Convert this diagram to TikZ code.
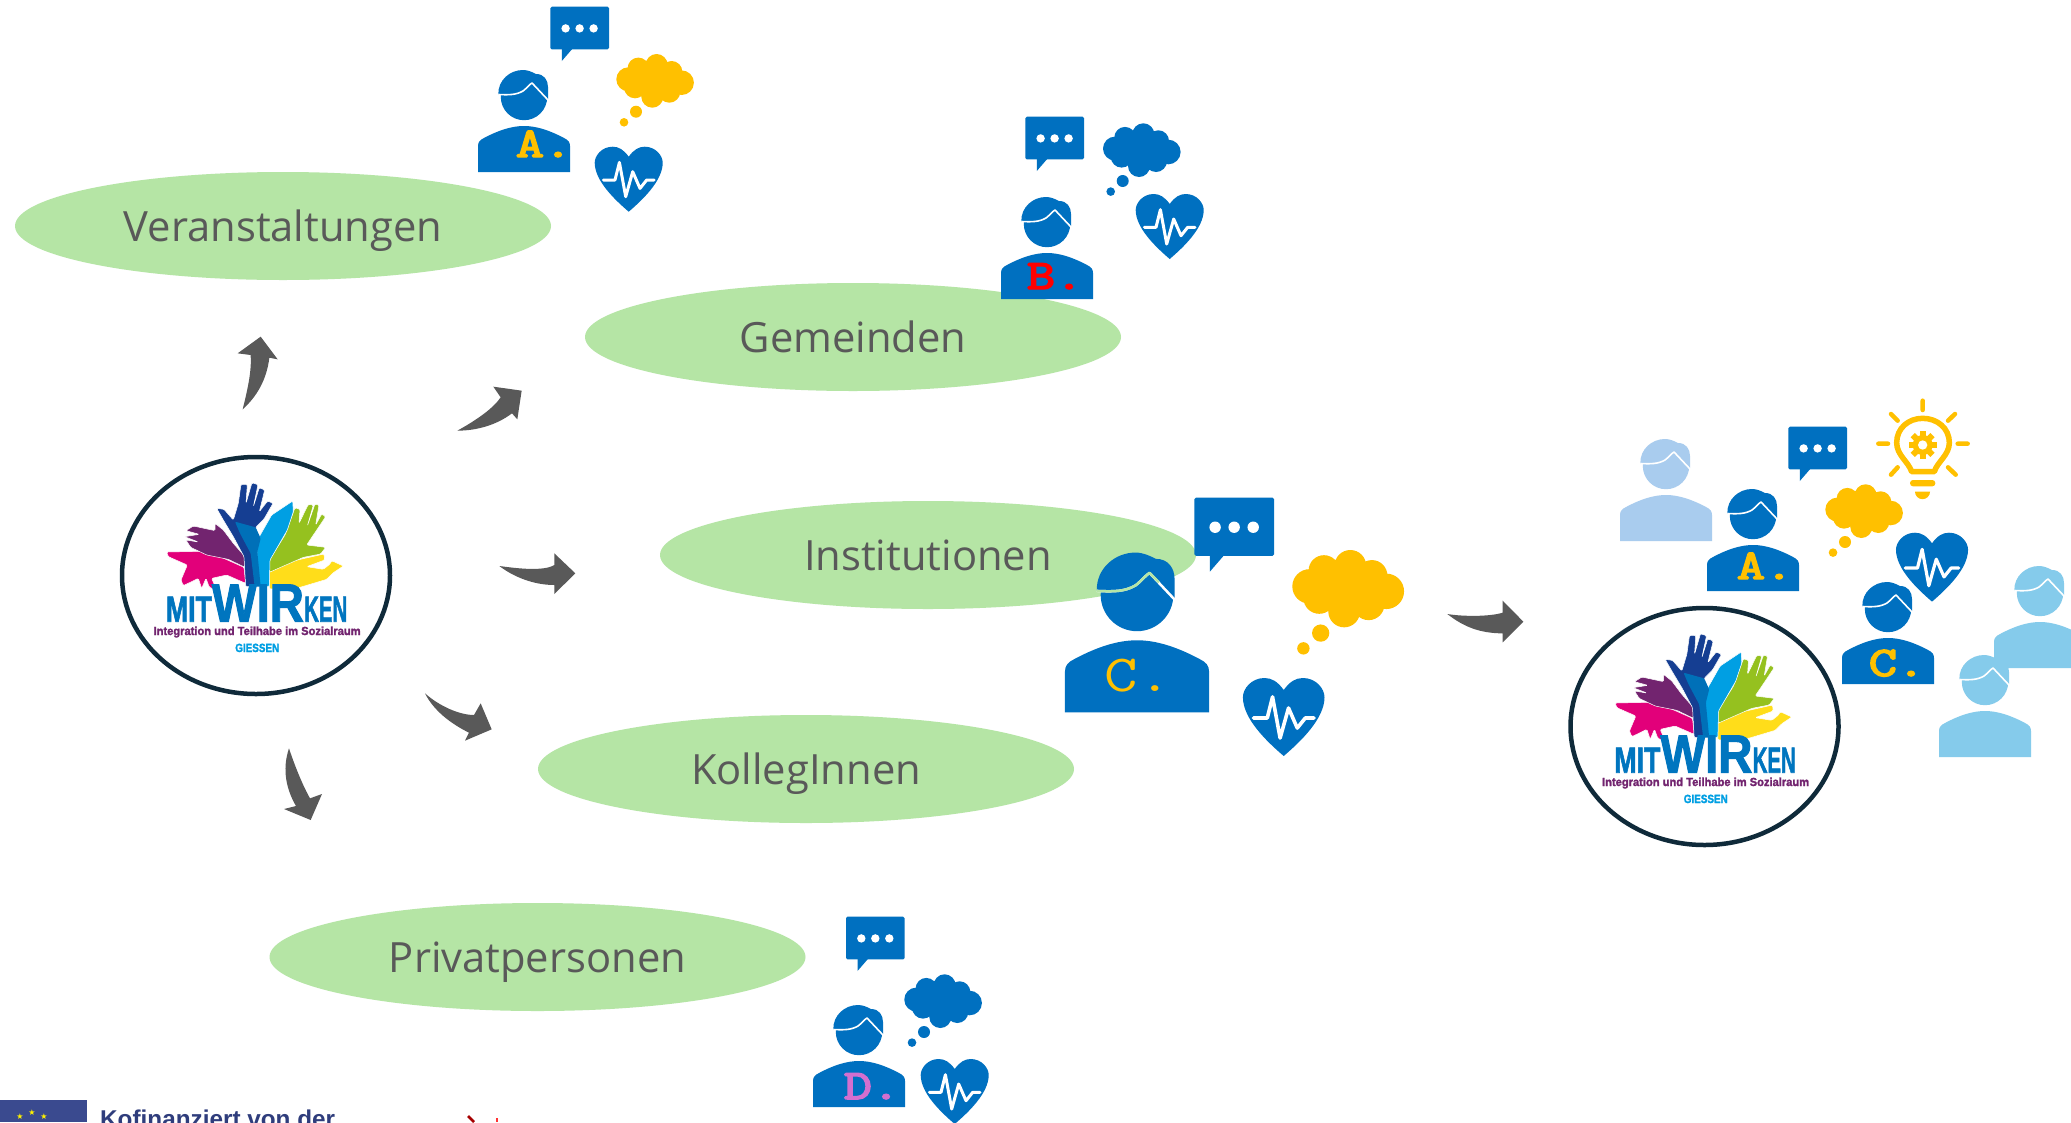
\documentclass[tikz,border=0pt]{standalone}
\usepackage{fontspec}
\usepackage{graphicx}
\setmainfont{Open Sans}
\newfontfamily\logofont[BoldFeatures={FakeBold=2}]{Liberation Sans}
\newfontfamily\plainsans{Liberation Sans}
\newfontfamily\starfont{DejaVu Sans}
\newfontfamily\monoheavy[FakeBold=3.5]{Latin Modern Mono}
\usetikzlibrary{shapes.geometric}
\definecolor{iconblue}{HTML}{0070C0}
\definecolor{gold}{HTML}{FFC000}
\definecolor{blobgreen}{HTML}{B5E5A5}
\definecolor{arrowgrey}{HTML}{595959}
\definecolor{ringdark}{HTML}{0F2A3A}
\definecolor{lightone}{HTML}{A9CCEE}
\definecolor{lighttwo}{HTML}{85CBEB}
\definecolor{hpurple}{HTML}{72246F}
\definecolor{hpink}{HTML}{E2007A}
\definecolor{hdark}{HTML}{153E92}
\definecolor{hmid}{HTML}{0070B8}
\definecolor{hlight}{HTML}{009FE3}
\definecolor{hgreen}{HTML}{95C11F}
\definecolor{hyellow}{HTML}{FFDD1A}
\definecolor{logoblue}{HTML}{0075BF}
\definecolor{letterpink}{HTML}{D36FCF}
\definecolor{eublue}{HTML}{3A4A8F}
\definecolor{eutext}{HTML}{2F3D7C}
\tikzset{
  blob/.style={ellipse,fill=blobgreen,minimum width=536pt,minimum height=108pt,inner sep=0pt,
    text=arrowgrey,font=\fontsize{41.7}{48}\selectfont,text height=32pt,text depth=2pt},
  ring/.style={ellipse,draw=ringdark,line width=4.5pt,fill=white,minimum width=268pt,minimum height=237pt,inner sep=0pt},
  bigarrow/.style={fill=arrowgrey},
  iconletter/.style={anchor=base,inner sep=0pt,font=\fontsize{42}{42}\monoheavy},
  logotext/.style={anchor=base west,inner sep=0pt,font=\logofont\bfseries\fontsize{30}{30}\selectfont},
  starmark/.style={text=yellow,inner sep=0pt,font=\starfont\fontsize{8}{8}\selectfont},
}
% x, y, scale, fill, line colour
\newcommand\personicon[5]{%
  \begin{scope}[shift={(#1,#2)},scale=#3]
    \fill[#4] (-46,0) -- (-46,-26) .. controls (-46,-30) and (-44,-32) .. (-40,-34)
      .. controls (-25,-42) and (-12,-46) .. (0,-46)
      .. controls (12,-46) and (25,-42) .. (40,-34)
      .. controls (44,-32) and (46,-30) .. (46,-26) -- (46,0) -- cycle;
    \fill[#4] (0,-75) circle[radius=23.2];
    \fill[#4] (-25.7,-77.7) .. controls (-26,-92) and (-14,-102) .. (-1,-102)
      .. controls (4,-102) and (8,-100) .. (12,-98)
      .. controls (20,-98) and (24,-92) .. (24,-85) -- (24,-73) -- cycle;
    \draw[#5,line width=#3*1.6pt,line join=round]
      (-25.7,-77.5) .. controls (-15,-77) and (-8,-77) .. (-1,-81)
      .. controls (3,-84) and (6,-88) .. (8,-89) -- (24,-72);
  \end{scope}}
% x, y, scale
\newcommand\bubbleicon[3]{%
  \begin{scope}[shift={(#1,#2)},scale=#3]
    \fill[iconblue,rounded corners=1.5pt] (0,0) rectangle (58.7,42.7);
    \fill[iconblue] (11.5,41) -- (11.5,54.3) -- (23,41) -- cycle;
    \fill[white] (15.3,21.7) circle[radius=4.2] (29.3,21.7) circle[radius=4.2] (43.3,21.7) circle[radius=4.2];
  \end{scope}}
% x, y, scale, colour
\newcommand\cloudicon[4]{%
  \begin{scope}[shift={(#1,#2)},scale=#3]
    \fill[#4] (12,25.3) circle[radius=12] (22,14.3) circle[radius=10.7] (40.3,11) circle[radius=11]
      (65.3,28.7) circle[radius=12.3] (55.3,17.7) circle[radius=10.7] (53,37.7) circle[radius=11]
      (36,42.7) circle[radius=11] (18.7,33.3) circle[radius=11]
      (40,28) circle[radius=16] (28,26) circle[radius=14] (52,26) circle[radius=14]
      (19.7,57.7) circle[radius=6] (7.7,68.3) circle[radius=4.3];
  \end{scope}}
% x, y (notch), scale
\newcommand\hearticon[3]{%
  \begin{scope}[shift={(#1,#2)},scale=#3]
    \fill[iconblue] (0,0) .. controls (-5,-7) and (-10,-10) .. (-16,-10)
      .. controls (-27,-10) and (-34,-1) .. (-34,6)
      .. controls (-34,24) and (-14,43) .. (0,55)
      .. controls (14,43) and (34,24) .. (34,6)
      .. controls (34,-1) and (27,-10) .. (16,-10)
      .. controls (10,-10) and (5,-7) .. (0,0) -- cycle;
    \draw[white,line width=#3*3pt,line join=round,line cap=round]
      (-25.3,23.3) -- (-13.7,23.3) -- (-9.3,5.7) -- (-3,40) -- (4,15) -- (11.3,31.7) -- (18,23.3) -- (25.3,23.3);
  \end{scope}}
% x, y, name prefix
\newcommand\logoicon[3]{%
  \node[ring] (#3ring) at (#1+156,#2+135.5) {};
  \begin{scope}[shift={(#1,#2)},scale=0.33333,white,line width=0.5pt,rounded corners=1.2pt]
    \filldraw[fill=hpink] (200,336) -- (300,334) -- (360,350) -- (432,382) -- (437,430) -- (380,405) -- (335,415) -- (350,450) -- (328,442) -- (318,415) -- (305,445) -- (295,415) -- (250,437) -- (243,420) -- (262,375) -- (205,350) -- cycle;
    \filldraw[fill=hpurple] (280,258) -- (345,272) -- (345,250) -- (370,270) -- (400,310) -- (435,350) -- (435,382) -- (385,358) -- (320,345) -- (272,322) -- (258,300) -- (295,306) -- (254,290) -- (298,283) -- (258,272) -- cycle;
    \filldraw[fill=hyellow] (508,395) -- (570,365) -- (672,342) -- (674,360) -- (620,380) -- (670,388) -- (690,372) -- (695,362) -- (730,378) -- (700,398) -- (680,418) -- (600,442) -- (508,447) -- cycle;
    \filldraw[fill=hgreen] (508,360) -- (555,285) -- (585,203) -- (600,208) -- (597,250) -- (625,193) -- (640,195) -- (622,258) -- (645,192) -- (657,195) -- (647,255) -- (665,222) -- (677,230) -- (620,315) -- (677,322) -- (662,342) -- (610,352) -- (508,397) -- cycle;
    \filldraw[fill=hlight] (478,290) -- (515,225) -- (578,183) -- (580,215) -- (562,270) -- (510,360) -- (508,440) -- (478,440) -- (462,340) -- cycle;
    \filldraw[fill=hdark] (350,205) -- (372,208) -- (400,240) -- (415,190) -- (423,133) -- (442,133) -- (438,190) -- (456,128) -- (474,134) -- (460,200) -- (478,143) -- (494,150) -- (478,215) -- (503,183) -- (519,190) -- (492,237) -- (467,262) -- (472,300) -- (467,440) -- (437,440) -- (432,350) -- (400,290) -- (370,240) -- cycle;
    \fill[hmid] (405,245) -- (467,262) -- (482,295) -- (472,335) -- (482,440) -- (464,440) -- (452,340) -- (420,280) -- cycle;
    \node[logotext,text=logoblue] (#3mit) at (197,545) {\resizebox{46pt}{25pt}{MIT}};
    \node[logotext,text=logoblue] (#3wir) at (335,545) {\resizebox{92pt}{37pt}{WIR}};
    \node[logotext,text=logoblue] (#3ken) at (612,545) {\resizebox{43pt}{25pt}{KEN}};
    \node[logotext,text=hpurple] (#3tag) at (160,585) {\resizebox{207pt}{8.5pt}{Integration und Teilhabe im Sozialraum}};
    \node[logotext,text=hlight] (#3city) at (405,636) {\resizebox{44pt}{8.3pt}{GIESSEN}};
  \end{scope}}
\begin{document}
\begin{tikzpicture}[x=1pt,y=-1pt]
\useasboundingbox (0,0) rectangle (2071,1122);
\clip (0,0) rectangle (2071,1122);
\fill[white] (0,0) rectangle (2071,1122);

% ovals
\node[blob] (veranst) at (283,226) {Veranstaltungen};
\node[blob] (gemeinden) at (853,337) {Gemeinden};
\node[blob] (inst) at (928,555) {Institutionen};
\node[blob] (kolleg) at (806,769) {KollegInnen};
\node[blob] (privat) at (537.5,957) {Privatpersonen};

% logos
\logoicon{100}{440}{left}
\logoicon{1548.5}{591}{right}

% arrows
\begin{scope}[shift={(220,320)},scale=0.33333]
  \fill[bigarrow] (68,268) .. controls (85,200) and (95,150) .. (92,105) -- (53,100) -- (122,50) -- (173,118) -- (148,113) .. controls (140,180) and (110,230) .. (68,268) -- cycle;
  \fill[bigarrow] (712,332) .. controls (770,300) and (820,265) .. (842,232) -- (820,200) -- (905,212) -- (892,298) -- (876,280) .. controls (830,315) and (770,332) .. (712,332) -- cycle;
\end{scope}
\begin{scope}[shift={(270,540)},scale=0.33333]
  \fill[bigarrow] (688,78) .. controls (740,85) and (820,95) .. (853,75) -- (853,40) -- (916,100) -- (853,162) -- (853,135) .. controls (790,135) and (730,110) .. (688,78) -- cycle;
  \fill[bigarrow] (465,460) .. controls (510,500) and (570,525) .. (612,525) -- (632,490) -- (665,568) -- (585,602) -- (597,578) .. controls (540,550) and (490,510) .. (465,460) -- cycle;
  \fill[bigarrow] (57,625) .. controls (75,680) and (100,740) .. (120,775) -- (156,762) -- (122,840) -- (42,807) -- (78,798) .. controls (50,750) and (35,690) .. (57,625) -- cycle;
\end{scope}
\begin{scope}[shift={(1430,590)},scale=0.33333]
  \fill[bigarrow] (52,72) .. controls (100,80) and (180,80) .. (218,68) -- (218,32) -- (280,95) -- (218,157) -- (218,130) .. controls (150,130) and (100,110) .. (52,72) -- cycle;
\end{scope}

% group A
\personicon{524}{172}{1}{iconblue}{white}
\node[iconletter,text=gold] (letterA) at (544,157) {\scalebox{1.3}[1]{A.}};
\bubbleicon{550.3}{6.7}{1}
\cloudicon{616.3}{54}{1}{gold}
\hearticon{628.7}{156.7}{1}

% group B
\personicon{1047}{299}{1}{iconblue}{white}
\node[iconletter,text=red] (letterB) at (1055,289) {\scalebox{1.3}[1]{B.}};
\bubbleicon{1025.3}{116.7}{1}
\cloudicon{1103}{123.3}{1}{iconblue}
\hearticon{1169.7}{204}{1}

% group C
\personicon{1137}{712.3}{1.566}{iconblue}{white}
\begin{scope}[shift={(1137,712.3)},scale=1.566]
  \draw[blobgreen,line width=2.5pt,line join=round] (-25.7,-77.5) .. controls (-15,-77) and (-8,-77) .. (-1,-81) .. controls (3,-84) and (6,-88) .. (8,-89) -- (14,-83);
\end{scope}
\node[iconletter,text=gold,font=\fontsize{52}{52}\ttfamily] (letterC) at (1138,691) {\scalebox{1.25}[1]{C.}};
\bubbleicon{1194.3}{497.7}{1.36}
\cloudicon{1292.3}{550}{1.44}{gold}
\hearticon{1283.7}{690}{1.2}

% group D
\personicon{859}{1107}{1}{iconblue}{white}
\node[iconletter,text=letterpink] (letterD) at (872,1099) {\scalebox{1.3}[1]{D.}};
\bubbleicon{846}{916.7}{1}
\cloudicon{904.3}{974.3}{1}{iconblue}
\hearticon{954.7}{1069}{1}

% right cluster
\personicon{1666}{541}{1}{lightone}{white}
\personicon{1753}{591}{1}{iconblue}{white}
\node[iconletter,text=gold] (letterRA) at (1765,579) {\scalebox{1.3}[1]{A.}};
\bubbleicon{1788.3}{426.7}{1}
\cloudicon{1825.3}{484.3}{1}{gold}
\hearticon{1932}{543.3}{1.06}
\personicon{1888}{684}{1}{iconblue}{white}
\node[iconletter,text=gold] (letterRC) at (1897,676) {\scalebox{1.3}[1]{C.}};
\personicon{2040}{668}{1}{lighttwo}{white}
\personicon{1985}{757}{1}{lighttwo}{white}

% light bulb
\begin{scope}[shift={(1600,390)},scale=0.33333]
  \draw[gold,line width=5.5pt,line join=round]
    (935,245) -- (1003,245) .. controls (1012,215) and (1048,195) .. (1048,158)
    .. controls (1048,115) and (1012,85) .. (968,85)
    .. controls (925,85) and (890,115) .. (890,158)
    .. controls (890,195) and (925,215) .. (935,245) -- cycle;
  \fill[gold,rounded corners=3pt] (930,270) rectangle (1006,289);
  \fill[gold] (945,305) -- (990,305) arc[start angle=0,end angle=180,radius=22.5,y=-1pt] -- cycle;
  \draw[gold,line width=4.5pt,line cap=round]
    (968,32) -- (968,60) (873,72) -- (893,92) (1065,72) -- (1044,92)
    (835,161) -- (864,161) (1073,161) -- (1103,161)
    (893,232) -- (873,254) (1044,232) -- (1067,254);
  \fill[gold] (968,165) circle[radius=30];
  \foreach \a in {0,45,...,315} {
    \fill[gold,rotate around={\a:(968,165)}] (959,123) rectangle (977,150);
  }
  \fill[white] (968,165) circle[radius=14];
\end{scope}

% funding strip
\fill[eublue] (0,1100) rectangle (87,1122);
\node[starmark] (star1) at (20,1117) {★};
\node[starmark] (star2) at (32,1113) {★};
\node[starmark] (star3) at (44,1117) {★};
\node[anchor=base west,inner sep=0pt,text=eutext,font=\plainsans\bfseries\fontsize{24.3}{24}\selectfont] (funding) at (100,1127) {Kofinanziert von der};
\draw[line width=2.5pt,color=red!65!black] (468,1116) -- (474,1122);
\draw[line width=2.5pt,color=red!80!white] (497,1118) -- (497,1122);
\end{tikzpicture}
\end{document}
